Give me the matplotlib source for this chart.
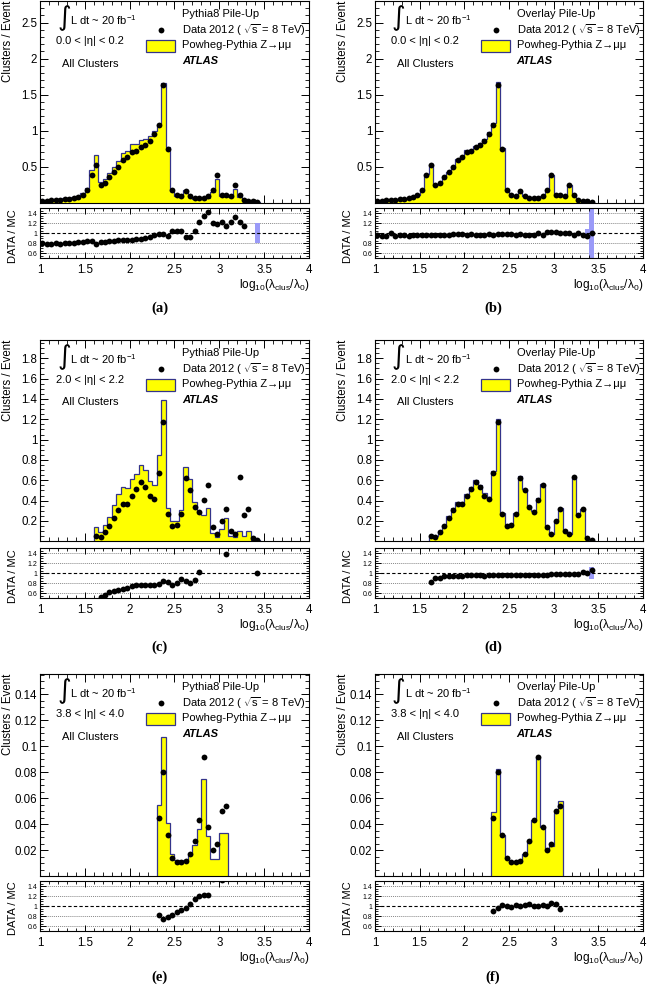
"""
Cluster size distributions: data vs Powheg-Pythia Z->mumu with two pile-up models
"""
import numpy as np
import matplotlib
matplotlib.use('Agg')
import matplotlib.pyplot as plt
from matplotlib.ticker import MultipleLocator, AutoMinorLocator, FormatStrFormatter
from matplotlib.patches import Rectangle

plt.rcParams['font.family'] = ['Liberation Sans', 'DejaVu Sans']
plt.rcParams['mathtext.fontset'] = 'custom'
plt.rcParams['mathtext.rm'] = 'Liberation Sans'
plt.rcParams['mathtext.it'] = 'Liberation Sans'
plt.rcParams['mathtext.bf'] = 'Liberation Sans:bold'

bin_width = 0.05

# 0.0 < |eta| < 0.2, bins from 1.00 to 3.45
start_eta0 = 1.0
data_eta0 = [0.028, 0.030, 0.033, 0.037, 0.042, 0.047, 0.055, 0.065, 0.080, 0.11,
             0.17, 0.38, 0.52, 0.24, 0.27, 0.35, 0.42, 0.50, 0.59, 0.63,
             0.71, 0.72, 0.77, 0.80, 0.86, 0.96, 1.08, 1.64, 0.74, 0.17,
             0.10, 0.09, 0.16, 0.09, 0.06, 0.06, 0.07, 0.09, 0.18, 0.39,
             0.11, 0.10, 0.09, 0.25, 0.10, 0.04, 0.03, 0.02, 0.01]
mc_pythia_eta0 = [0.035, 0.038, 0.042, 0.046, 0.053, 0.059, 0.068, 0.080, 0.098, 0.133,
                  0.202, 0.452, 0.658, 0.293, 0.325, 0.417, 0.494, 0.581, 0.686, 0.724,
                  0.816, 0.818, 0.865, 0.879, 0.925, 1.000, 1.091, 1.657, 0.779, 0.163,
                  0.095, 0.086, 0.174, 0.098, 0.057, 0.049, 0.052, 0.063, 0.150, 0.330,
                  0.089, 0.088, 0.074, 0.189, 0.082, 0.035, 0.018, 0.012, 0.006]
mc_overlay_eta0 = [0.029, 0.032, 0.035, 0.037, 0.044, 0.049, 0.057, 0.068, 0.082, 0.113,
                   0.175, 0.392, 0.536, 0.247, 0.278, 0.361, 0.433, 0.510, 0.602, 0.643,
                   0.732, 0.735, 0.794, 0.825, 0.887, 0.980, 1.113, 1.673, 0.755, 0.173,
                   0.102, 0.093, 0.163, 0.093, 0.0625, 0.0625, 0.070, 0.094, 0.176, 0.379,
                   0.107, 0.099, 0.089, 0.248, 0.103, 0.040, 0.031, 0.021, 0.010]

# 2.0 < |eta| < 2.2, bins from 1.60 to 3.45
start_eta2 = 1.6
data_eta2 = [0.05, 0.045, 0.09, 0.15, 0.23, 0.31, 0.37, 0.37, 0.45, 0.51,
             0.58, 0.53, 0.45, 0.42, 0.67, 1.17, 0.27, 0.15, 0.16, 0.27,
             0.62, 0.50, 0.34, 0.29, 0.41, 0.55, 0.14, 0.07, 0.20, 0.32,
             0.10, 0.07, 0.63, 0.26, 0.32, 0.03, 0.01]
mc_pythia_eta2 = [0.14, 0.087, 0.158, 0.242, 0.359, 0.463, 0.536, 0.521, 0.608, 0.662,
                  0.753, 0.697, 0.592, 0.553, 0.848, 1.393, 0.329, 0.195, 0.198, 0.307,
                  0.729, 0.617, 0.391, 0.284, 0.26, 0.33, 0.08, 0.04, 0.12, 0.232,
                  0.05, 0.04, 0.10, 0.05, 0.10, 0.015, 0.01]
mc_overlay_eta2 = [0.061, 0.050, 0.099, 0.158, 0.245, 0.326, 0.389, 0.389, 0.469, 0.531,
                   0.604, 0.552, 0.474, 0.4375, 0.691, 1.206, 0.281, 0.155, 0.165, 0.278,
                   0.639, 0.515, 0.350, 0.299, 0.427, 0.567, 0.146, 0.071, 0.202, 0.327,
                   0.101, 0.071, 0.636, 0.263, 0.314, 0.030, 0.0093]

# 3.8 < |eta| < 4.0, bins from 2.30 to 3.10
start_eta38 = 2.3
data_eta38 = [0.045, 0.080, 0.032, 0.014, 0.011, 0.011, 0.012, 0.017,
              0.027, 0.043, 0.092, 0.038, 0.020, 0.025, 0.050, 0.054]
mc_pythia_eta38 = [0.055, 0.107, 0.041, 0.017, 0.0126, 0.012, 0.0124, 0.0163,
                   0.0237, 0.036, 0.075, 0.031, 0.013, 0.013, 0.033, 0.033]
mc_overlay_eta38 = [0.0495, 0.0825, 0.0314, 0.0139, 0.0112, 0.0107, 0.012, 0.0168,
                    0.0262, 0.043, 0.092, 0.0376, 0.020, 0.0234, 0.0485, 0.058]

# MC stat. uncertainty in the ratio (bin index inside panel, half width)
band_idx_a, band_half_a = [48], [0.2]
band_idx_b, band_half_b = [47, 48], [0.08, 0.6]
band_idx_c, band_half_c = [36], [0.03]
band_idx_d, band_half_d = [36], [0.12]

yticks_eta0 = [0.5, 1, 1.5, 2, 2.5]
yticks_eta2 = [0.2, 0.4, 0.6, 0.8, 1, 1.2, 1.4, 1.6, 1.8]
yticks_eta38 = [0.02, 0.04, 0.06, 0.08, 0.1, 0.12, 0.14]

W, H = 647, 988
fig = plt.figure(figsize=(W / 100, H / 100), dpi=100)

YELLOW = '#ffff00'
EDGE = '#34348a'
BLUE = '#9a9af8'
FS = 8.0
MS = 4.2


def fx(px):
    return px / W


def fy(px):
    return 1 - px / H


def draw_panel(col, row, start, data, mc, band_idx, band_half, pileup, eta_text, yticks, ymax, letter):
    left_px, right_px = [(40, 309), (375, 643)][col]
    main_top, main_bot, r_top, r_bot = [(1, 202.7, 208.3, 258.3),
                                        (340, 541.3, 548.3, 598.3),
                                        (674, 876.3, 881, 931)][row]
    ax = fig.add_axes([fx(left_px), fy(main_bot), fx(right_px - left_px), (main_bot - main_top) / H])
    rax = fig.add_axes([fx(left_px), fy(r_bot), fx(right_px - left_px), (r_bot - r_top) / H])
    wpx = right_px - left_px

    data = np.array(data)
    mc = np.array(mc)
    edges = start + bin_width * np.arange(len(mc) + 1)
    centers = edges[:-1] + bin_width / 2

    ax.stairs(mc, edges, fill=True, facecolor=YELLOW, edgecolor=EDGE, lw=0.9, zorder=2)
    ax.plot(centers, data, 'o', color='k', ms=MS, mew=0, zorder=3)
    ax.set_xlim(1, 4)
    ax.set_ylim(0, ymax)
    ax.set_yticks(yticks)
    ax.set_yticklabels(['%g' % v for v in yticks])
    ax.yaxis.set_minor_locator(AutoMinorLocator())
    ax.xaxis.set_major_locator(MultipleLocator(0.5))
    ax.xaxis.set_minor_locator(MultipleLocator(0.1))
    ax.tick_params(which='both', direction='in', top=True, right=True, labelbottom=False,
                   labelsize=FS + 0.3, pad=2)
    ax.tick_params(which='major', length=5.5, width=0.7)
    ax.tick_params(which='minor', length=2.8, width=0.6)
    ax.text(-32 / wpx, 1.0, 'Clusters / Event', rotation=90, ha='center', va='top',
            transform=ax.transAxes, fontsize=FS + 0.3)

    # labels and legend
    tr = ax.transAxes
    ax.text(0.089, 0.915, '\u222b', fontsize=19, ha='center', va='center', transform=tr,
            family=['DejaVu Sans'])
    ax.text(0.112, 0.905, 'L dt ~ 20 fb$^{-1}$', fontsize=FS, ha='left', va='center', transform=tr)
    ax.text(0.06, 0.80, eta_text, fontsize=FS, ha='left', va='center', transform=tr)
    ax.text(0.082, 0.69, 'All Clusters', fontsize=FS, ha='left', va='center', transform=tr)
    ax.text(0.528, 0.936, pileup, fontsize=FS, ha='left', va='center', transform=tr)
    ax.plot([0.45], [0.856], 'o', color='k', ms=MS, mew=0, transform=tr, clip_on=False)
    ax.text(0.528, 0.856, 'Data 2012 ( $\\sqrt{\\mathrm{s}}$ = 8 TeV)', fontsize=FS, ha='left',
            va='center', transform=tr)
    ax.add_patch(Rectangle((0.394, 0.747), 0.108, 0.06, transform=tr, facecolor=YELLOW,
                           edgecolor=EDGE, lw=0.9, zorder=4))
    ax.text(0.528, 0.782, 'Powheg-Pythia Z\u2192\u03bc\u03bc', fontsize=FS, ha='left', va='center',
            transform=tr)
    ax.text(0.528, 0.703, 'ATLAS', fontsize=FS, ha='left', va='center', transform=tr,
            fontweight='bold', fontstyle='italic')

    # ratio panel
    for b, h in zip(band_idx, band_half):
        rax.add_patch(Rectangle((edges[b], 1 - h), bin_width, 2 * h, facecolor=BLUE,
                                edgecolor='none', zorder=1))
    for v in [0.6, 0.8, 1.2, 1.4]:
        rax.axhline(v, color='#888888', ls=(0, (1, 1)), lw=0.7, zorder=0)
    rax.axhline(1, color='k', ls=(0, (3, 2)), lw=0.8, zorder=2)
    rax.plot(centers, data / mc, 'o', color='k', ms=MS, mew=0, zorder=3)
    rax.set_xlim(1, 4)
    rax.set_ylim(0.5, 1.5)
    rax.set_yticks([0.6, 0.8, 1, 1.2, 1.4])
    rax.yaxis.set_major_formatter(FormatStrFormatter('%g'))
    rax.yaxis.set_minor_locator(MultipleLocator(0.05))
    rax.xaxis.set_major_locator(MultipleLocator(0.5))
    rax.xaxis.set_minor_locator(MultipleLocator(0.1))
    rax.xaxis.set_major_formatter(FormatStrFormatter('%g'))
    rax.tick_params(which='both', direction='in', top=True, right=True, pad=3)
    rax.tick_params(axis='x', labelsize=FS + 0.3, pad=4)
    rax.tick_params(axis='y', labelsize=5.0, pad=2)
    rax.tick_params(which='major', length=4, width=0.7)
    rax.tick_params(which='minor', length=2, width=0.6)
    rax.text(-27 / wpx, 0.45, 'DATA / MC', rotation=90, ha='center', va='center',
             transform=rax.transAxes, fontsize=FS)
    rax.text(1.0, -(285 - 258.3) / 50, 'log$_{10}$(\u03bb$_{\\mathrm{clus}}$/\u03bb$_{0}$)',
             ha='right', va='center', transform=rax.transAxes, fontsize=FS + 0.6)

    label_x = [160, 493][col]
    label_y = [308, 647, 977][row]
    fig.text(fx(label_x), fy(label_y), '(%s)' % letter, ha='center', va='center',
             fontsize=10.5, fontweight='bold', family=['Liberation Serif'])


draw_panel(0, 0, start_eta0, data_eta0, mc_pythia_eta0, band_idx_a, band_half_a,
           'Pythia8 Pile-Up', '0.0 < |\u03b7| < 0.2', yticks_eta0, 2.8, 'a')
draw_panel(1, 0, start_eta0, data_eta0, mc_overlay_eta0, band_idx_b, band_half_b,
           'Overlay Pile-Up', '0.0 < |\u03b7| < 0.2', yticks_eta0, 2.8, 'b')
draw_panel(0, 1, start_eta2, data_eta2, mc_pythia_eta2, band_idx_c, band_half_c,
           'Pythia8 Pile-Up', '2.0 < |\u03b7| < 2.2', yticks_eta2, 1.98, 'c')
draw_panel(1, 1, start_eta2, data_eta2, mc_overlay_eta2, band_idx_d, band_half_d,
           'Overlay Pile-Up', '2.0 < |\u03b7| < 2.2', yticks_eta2, 1.98, 'd')
draw_panel(0, 2, start_eta38, data_eta38, mc_pythia_eta38, [], [],
           'Pythia8 Pile-Up', '3.8 < |\u03b7| < 4.0', yticks_eta38, 0.1556, 'e')
draw_panel(1, 2, start_eta38, data_eta38, mc_overlay_eta38, [], [],
           'Overlay Pile-Up', '3.8 < |\u03b7| < 4.0', yticks_eta38, 0.1556, 'f')

fig.savefig('out.png', dpi=100)
